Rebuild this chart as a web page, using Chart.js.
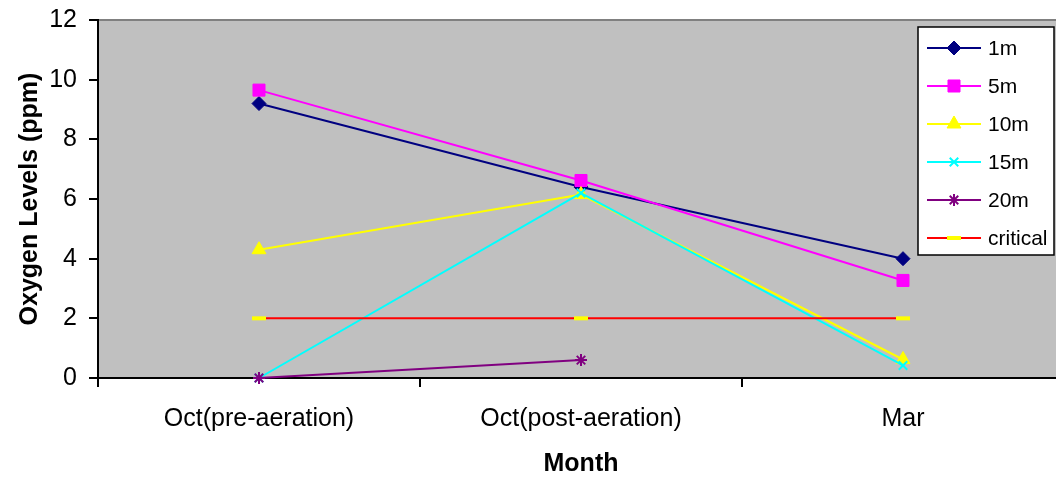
<!DOCTYPE html>
<html>
<head>
<meta charset="utf-8">
<script src="https://cdn.jsdelivr.net/npm/chart.js@4.4.0/dist/chart.umd.min.js"></script>
<style>
  html, body { margin: 0; padding: 0; overflow: hidden; background: #ffffff; width: 1056px; height: 485px; }
  #wrap { width: 1056px; height: 485px; overflow: hidden; position: relative; }
  #c { position: absolute; left: 0; top: 0; width: 1066px; height: 485px; }
</style>
</head>
<body>
<div id="wrap"><canvas id="c" width="1066" height="485"></canvas></div>
<script>
// ---- data ----
const categories = ["Oct(pre-aeration)", "Oct(post-aeration)", "Mar"];
const seriesNames = ["1m", "5m", "10m", "15m", "20m", "critical"];
const values1m = [9.2, 6.4, 4.0];
const values5m = [9.65, 6.62, 3.27];
const values10m = [4.3, 6.15, 0.62];
const values15m = [0.0, 6.2, 0.42];
const values20m = [0.0, 0.6, null];
const valuesCritical = [2, 2, 2];
const yTicks = [0, 2, 4, 6, 8, 10, 12];

const FONT = "'Liberation Sans', Arial, sans-serif";

const styles = [
  { color: '#000080', fill: '#000080', pointStyle: 'rectRot', radius: 7, pbw: 1 },
  { color: '#FF00FF', fill: '#FF00FF', pointStyle: 'rect', radius: 8.5, pbw: 1 },
  { color: '#FFFF00', fill: '#FFFF00', pointStyle: 'triangle', radius: 8, pbw: 1 },
  { color: '#00FFFF', fill: '#00FFFF', pointStyle: 'crossRot', radius: 6, pbw: 2 },
  { color: '#800080', fill: '#800080', pointStyle: 'star', radius: 6, pbw: 2 },
  { color: '#FF0000', fill: '#FFFF00', pointStyle: 'line', radius: 7, pbw: 4, pointBorder: '#FFFF00' }
];
const allValues = [values1m, values5m, values10m, values15m, values20m, valuesCritical];

const datasets = allValues.map((vals, i) => {
  const s = styles[i];
  return {
    label: seriesNames[i],
    data: vals,
    borderColor: s.color,
    borderWidth: 2,
    backgroundColor: s.fill,
    pointStyle: s.pointStyle,
    pointRadius: s.radius,
    pointHoverRadius: s.radius,
    pointBackgroundColor: s.fill,
    pointBorderColor: s.pointBorder || s.color,
    pointBorderWidth: s.pbw,
    tension: 0,
    spanGaps: false,
    clip: false,
    order: allValues.length - i
  };
});

const plotBg = {
  id: 'plotBg',
  beforeDraw(chart) {
    const { ctx, chartArea: a } = chart;
    ctx.save();
    ctx.fillStyle = '#C0C0C0';
    ctx.fillRect(a.left, a.top, a.right - a.left, a.bottom - a.top);
    ctx.strokeStyle = '#808080';
    ctx.lineWidth = 2;
    ctx.beginPath();
    ctx.moveTo(a.left, a.top);
    ctx.lineTo(a.right, a.top);
    ctx.lineTo(a.right, a.bottom);
    ctx.stroke();
    ctx.restore();
  }
};

function drawMarker(ctx, opts, x, y) {
  if (Chart.helpers && Chart.helpers.drawPoint) {
    Chart.helpers.drawPoint(ctx, opts, x, y);
  }
}

const customLegend = {
  id: 'customLegend',
  afterDraw(chart) {
    const ctx = chart.ctx;
    const bx = 918, by = 27, bw = 136, bh = 228;
    ctx.save();
    ctx.fillStyle = '#FFFFFF';
    ctx.fillRect(bx, by, bw, bh);
    ctx.strokeStyle = '#000000';
    ctx.lineWidth = 1.5;
    ctx.strokeRect(bx, by, bw, bh);
    chart.data.datasets.forEach((ds, i) => {
      const y = 48 + i * 38;
      ctx.strokeStyle = ds.borderColor;
      ctx.lineWidth = 2;
      ctx.beginPath();
      ctx.moveTo(927, y);
      ctx.lineTo(981, y);
      ctx.stroke();
      ctx.fillStyle = ds.pointBackgroundColor;
      ctx.strokeStyle = ds.pointBorderColor;
      ctx.lineWidth = ds.pointBorderWidth;
      drawMarker(ctx, { pointStyle: ds.pointStyle, radius: ds.pointRadius, rotation: 0, borderWidth: ds.pointBorderWidth }, 954, y);
      ctx.fillStyle = '#000000';
      ctx.font = '21px ' + FONT;
      ctx.textAlign = 'left';
      ctx.textBaseline = 'middle';
      ctx.fillText(ds.label, 988, y + 1);
    });
    ctx.restore();
  }
};

new Chart(document.getElementById('c'), {
  type: 'line',
  data: { labels: categories, datasets },
  options: {
    responsive: false,
    animation: false,
    events: [],
    layout: { autoPadding: false, padding: { left: 0, top: 20, right: 2, bottom: 0 } },
    plugins: { legend: { display: false }, tooltip: { enabled: false } },
    scales: {
      x: {
        type: 'category',
        offset: true,
        grid: { offset: true, drawOnChartArea: false, drawTicks: true, tickLength: 9, color: '#000000', lineWidth: 2 },
        border: { display: true, color: '#000000', width: 2 },
        ticks: { color: '#000000', font: { family: FONT, size: 25 }, padding: 17, maxRotation: 0, autoSkip: false },
        title: { display: true, text: 'Month', color: '#000000', font: { family: FONT, size: 25, weight: 'bold' }, padding: { top: 0, bottom: 6 } },
        afterFit(scale) { scale.height = 107; scale.paddingLeft = 0; scale.paddingRight = 0; }
      },
      y: {
        min: 0, max: 12,
        afterBuildTicks(scale) { scale.ticks = yTicks.map(v => ({ value: v })); },
        grid: { drawOnChartArea: false, drawTicks: true, tickLength: 9, color: '#000000', lineWidth: 2 },
        border: { display: true, color: '#000000', width: 2 },
        ticks: { color: '#000000', font: { family: FONT, size: 25 }, padding: 12 },
        title: { display: true, text: 'Oxygen Levels (ppm)', color: '#000000', font: { family: FONT, size: 25, weight: 'bold' }, padding: { top: 15, bottom: 0 } },
        afterFit(scale) { scale.width = 98; scale.paddingTop = 0; scale.paddingBottom = 0; }
      }
    }
  },
  plugins: [plotBg, customLegend]
});
</script>
</body>
</html>
